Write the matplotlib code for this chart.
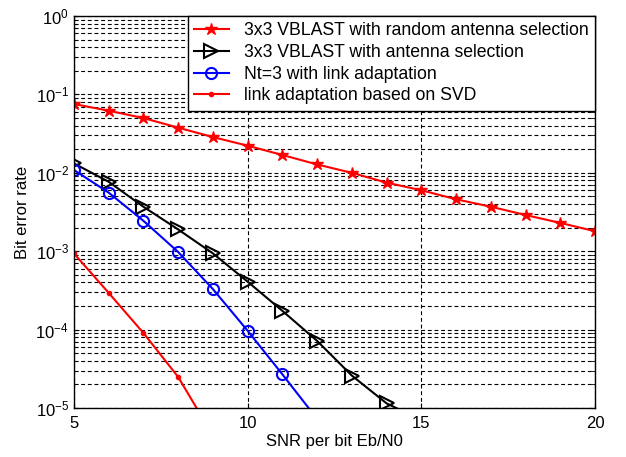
import numpy as np
import matplotlib.pyplot as plt
from matplotlib.ticker import LogLocator

plt.rcParams['font.family'] = ['Liberation Sans', 'DejaVu Sans']
plt.rcParams['mathtext.default'] = 'regular'

snr = np.arange(5, 21)
ber_random_sel = [0.0755, 0.062, 0.050, 0.0377, 0.0286, 0.0222, 0.0169, 0.0128,
                  0.0100, 0.0075, 0.0060, 0.0046, 0.0037, 0.0029, 0.0023, 0.0018]

snr_sel = np.arange(5, 16)
ber_ant_sel = [0.0132, 0.0077, 0.0037, 0.0019, 9.4e-4, 4.1e-4, 1.74e-4, 7.2e-5,
               2.6e-5, 1.15e-5, 7e-6]

snr_la = np.arange(5, 13)
ber_link_adapt = [0.0109, 0.0056, 0.00245, 9.8e-4, 3.3e-4, 9.7e-5, 2.7e-5, 7.3e-6]

snr_svd = np.arange(5, 10)
ber_svd = [9.4e-4, 2.95e-4, 9.1e-5, 2.5e-5, 4.5e-6]

fig = plt.figure(figsize=(6.26, 4.57), dpi=100)
ax = fig.add_axes([0.118, 0.107, 0.8325, 0.858])

ax.semilogy(snr, ber_random_sel, '-', color='red', marker='*', markersize=9,
            linewidth=1.5, label='3x3 VBLAST with random antenna selection')
ax.semilogy(snr_sel, ber_ant_sel, '-', color='black', marker='>', markersize=10,
            markerfacecolor='none', markeredgewidth=1.5, linewidth=1.5,
            label='3x3 VBLAST with antenna selection')
ax.semilogy(snr_la, ber_link_adapt, '-', color='blue', marker='o', markersize=8,
            markerfacecolor='none', markeredgewidth=1.5, linewidth=1.5,
            label='Nt=3 with link adaptation')
ax.semilogy(snr_svd, ber_svd, '-', color='red', marker='.', markersize=6,
            linewidth=1.5, label='link adaptation based on SVD')

ax.set_xlim(5, 20)
ax.set_ylim(1e-5, 1)
ax.set_xticks([5, 10, 15, 20])
ax.yaxis.set_major_locator(LogLocator(base=10, numticks=10))
ax.yaxis.set_minor_locator(LogLocator(base=10, subs=np.arange(2, 10), numticks=20))

grid_style = dict(color='black', linestyle=(0, (3.5, 2.5)), linewidth=0.8)
ax.grid(True, which='major', **grid_style)
ax.grid(True, which='minor', axis='y', **grid_style)

ax.tick_params(which='both', direction='in', top=True, right=True, labelsize=12)
ax.tick_params(axis='x', pad=6)
ax.tick_params(which='minor', length=3)
for s in ax.spines.values():
    s.set_linewidth(1.0)

ax.set_xlabel('SNR per bit Eb/N0', fontsize=12, labelpad=2)
ax.set_ylabel('Bit error rate', fontsize=12, labelpad=4)

leg = ax.legend(loc='upper right', fontsize=12.7, handlelength=2.0,
                borderaxespad=0, frameon=True, fancybox=False,
                labelspacing=0.27, borderpad=0.35, handletextpad=0.85)
leg.get_frame().set_edgecolor('black')
leg.get_frame().set_linewidth(1.0)
leg.get_frame().set_alpha(1)

fig.savefig('out.png', dpi=100, facecolor='white')
